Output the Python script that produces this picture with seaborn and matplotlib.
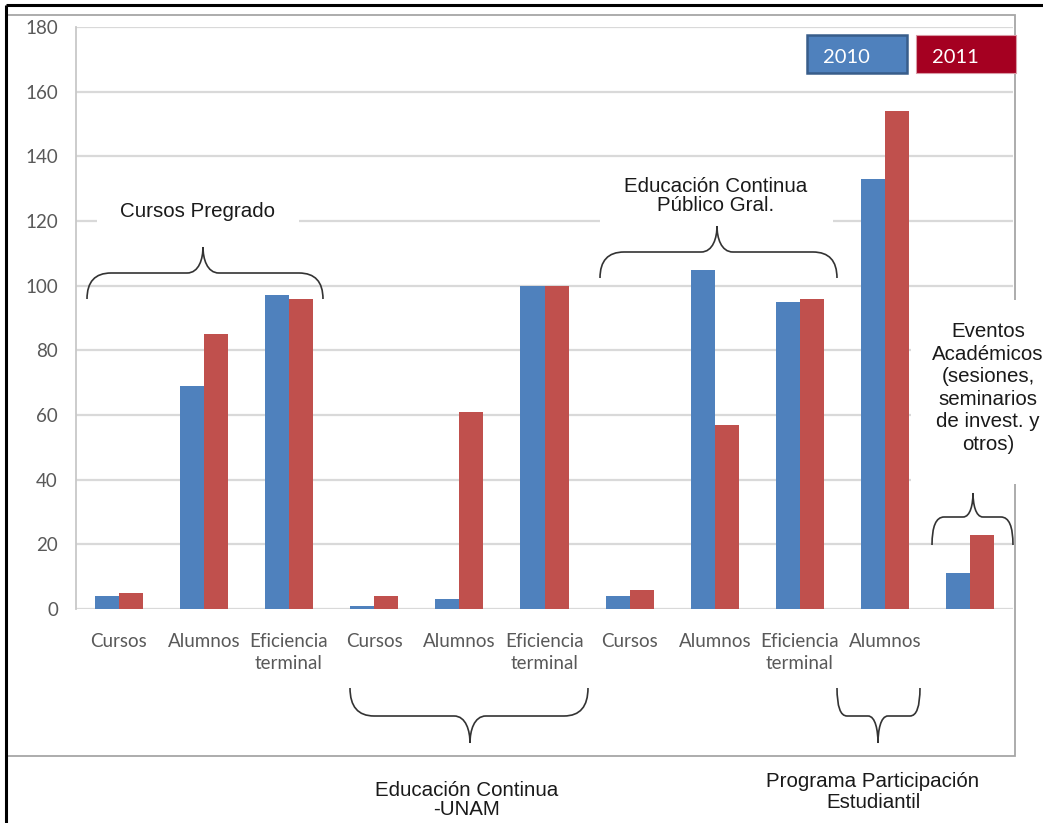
import matplotlib
matplotlib.use("Agg")
import matplotlib.pyplot as plt
from matplotlib.path import Path
from matplotlib.patches import PathPatch, Rectangle
import seaborn as sns
import pandas as pd

# ---------------- data ----------------
category_ids = ["c1", "c2", "c3", "c4", "c5", "c6", "c7", "c8", "c9", "c10", "c11"]
tick_labels = ["Cursos", "Alumnos", "Eficiencia\nterminal",
               "Cursos", "Alumnos", "Eficiencia\nterminal",
               "Cursos", "Alumnos", "Eficiencia\nterminal",
               "Alumnos", ""]
values_2010 = [4, 69, 97, 1, 3, 100, 4, 105, 95, 133, 11]
values_2011 = [5, 85, 96, 4, 61, 100, 6, 57, 96, 154, 23]
series_names = ["2010", "2011"]
y_ticks = [0, 20, 40, 60, 80, 100, 120, 140, 160, 180]

df = pd.DataFrame({
    "cat": category_ids * 2,
    "valor": values_2010 + values_2011,
    "serie": [series_names[0]] * len(category_ids) + [series_names[1]] * len(category_ids),
})

W, H = 1043, 823
sns.set_theme(style="white")
plt.rcParams["font.family"] = ["Liberation Sans", "DejaVu Sans"]

fig = plt.figure(figsize=(W / 100, H / 100), dpi=100)
fig.patch.set_facecolor("white")

# main plot area in pixel geometry
left, right, top, bottom = 76, 1013, 27, 609
ax = fig.add_axes([left / W, 1 - bottom / H, (right - left) / W, (bottom - top) / H])

sns.barplot(data=df, x="cat", y="valor", hue="serie", order=category_ids,
            hue_order=series_names,
            palette={"2010": "#4F81BD", "2011": "#C0504D"},
            saturation=1, width=0.565, gap=0, ax=ax, legend=False,
            edgecolor="none")

ax.set_ylim(0, 180)
ax.set_xlim(-0.5, len(category_ids) - 0.5)
ax.set_yticks(y_ticks)
ax.set_xticks(range(len(category_ids)))
ax.set_xticklabels(tick_labels, fontfamily=["Lato", "DejaVu Sans"], fontsize=13.5,
                   color="#595959", linespacing=1.35)
ax.set_yticklabels([str(v) for v in y_ticks], fontfamily=["Lato", "DejaVu Sans"],
                   fontsize=13.5, color="#595959")
ax.tick_params(axis="y", length=0, pad=13)
ax.tick_params(axis="x", length=0, pad=17)
for lab in ax.get_xticklabels():
    lab.set_verticalalignment("top")
ax.set_xlabel("")
ax.set_ylabel("")
ax.set_facecolor("none")
for s in ["top", "right", "bottom"]:
    ax.spines[s].set_visible(False)
ax.spines["left"].set_color("#C8C8C8")
ax.spines["left"].set_linewidth(1.3)
ax.yaxis.grid(True, color="#D9D9D9", linewidth=1.6)
ax.set_axisbelow(True)

# ---------------- overlay in pixel coordinates ----------------
ov = fig.add_axes([0, 0, 1, 1], zorder=5)
ov.set_xlim(0, W)
ov.set_ylim(H, 0)
ov.axis("off")
ov.patch.set_alpha(0)

# frames
ov.plot([6, W], [5, 5], color="black", lw=2.2, solid_capstyle="butt")
ov.plot([6, 6], [5, H], color="black", lw=2.2, solid_capstyle="butt")
ov.add_patch(Rectangle((7, 15), 1008, 741, fill=False, edgecolor="#A6A6A6", lw=1.3))

# white boxes behind annotation text (hide gridlines)
ov.add_patch(Rectangle((97, 196), 202, 36, facecolor="white", edgecolor="none"))
ov.add_patch(Rectangle((600, 168), 233, 62, facecolor="white", edgecolor="none"))
ov.add_patch(Rectangle((911, 300), 132, 184, facecolor="white", edgecolor="none"))


def brace(x0, x1, yend, yh, ytip, xtip, rx=24, rm=16):
    verts = [(x0, yend), (x0, yh), (x0 + rx, yh),
             (xtip - rm, yh),
             (xtip - rm * 0.25, yh), (xtip, yh - (yh - ytip) * 0.55), (xtip, ytip),
             (xtip, yh - (yh - ytip) * 0.55), (xtip + rm * 0.25, yh), (xtip + rm, yh),
             (x1 - rx, yh),
             (x1, yh), (x1, yend)]
    codes = [Path.MOVETO, Path.CURVE3, Path.CURVE3,
             Path.LINETO,
             Path.CURVE4, Path.CURVE4, Path.CURVE4,
             Path.CURVE4, Path.CURVE4, Path.CURVE4,
             Path.LINETO,
             Path.CURVE3, Path.CURVE3]
    ov.add_patch(PathPatch(Path(verts, codes), fill=False, edgecolor="#333333", lw=1.2))


brace(87, 323, 299, 273, 247, 203)
brace(600, 837, 278, 252, 226, 717)
brace(932, 1013, 545, 517, 493, 973, rx=12, rm=10)
brace(350, 588, 688, 716, 743, 470)
brace(837, 920, 688, 716, 743, 878, rx=10, rm=10)

txt = dict(fontsize=14.8, color="#1a1a1a", ha="center", va="center",
           family=["Liberation Sans", "DejaVu Sans"])
ov.text(197, 211, "Cursos Pregrado", **txt)
ov.text(716, 196, "Educación Continua\nPúblico Gral.", linespacing=1.05, **txt)
ov.text(988, 388, "Eventos\nAcadémicos\n(sesiones,\nseminarios\nde invest. y\notros)",
        linespacing=1.24, clip_on=False, **txt)
ov.text(467, 800, "Educación Continua\n-UNAM", linespacing=1.05, **txt)
ov.text(873, 792, "Programa Participación\nEstudiantil", linespacing=1.15, **txt)

# legend boxes
ov.add_patch(Rectangle((807, 35), 100, 38, facecolor="#4F81BD", edgecolor="#385D8A", lw=1.8))
ov.add_patch(Rectangle((916, 35), 100, 38, facecolor="#A50021", edgecolor="#D99AA5", lw=0.8))
ov.text(846, 57, series_names[0], color="white", fontsize=14.5, ha="center", va="center",
        family=["Lato", "DejaVu Sans"])
ov.text(955, 57, series_names[1], color="white", fontsize=14.5, ha="center", va="center",
        family=["Lato", "DejaVu Sans"])

fig.savefig("out.png", dpi=100, facecolor="white")
